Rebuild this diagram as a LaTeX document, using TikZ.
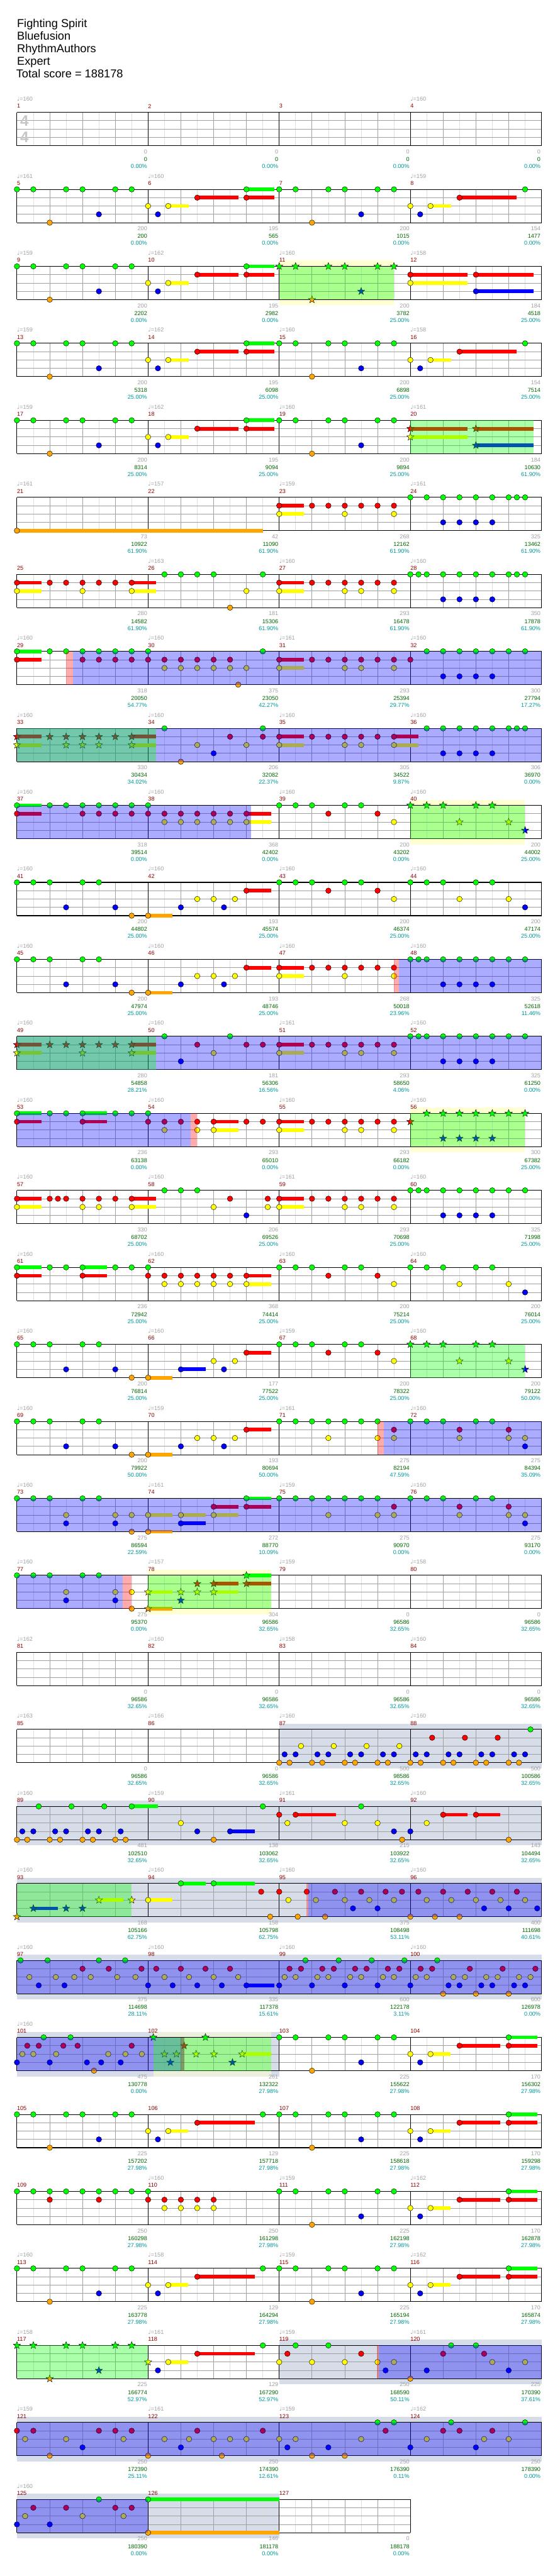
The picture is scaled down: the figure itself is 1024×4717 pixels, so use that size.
\documentclass[tikz,border=0pt]{standalone}
\usepackage{fontspec}
\setmainfont{Liberation Sans}
\newfontfamily\notefont{DejaVu Sans}
\usepackage{tikz}

% lane colours
\definecolor{ln0}{RGB}{0,255,0}
\definecolor{ln1}{RGB}{255,0,0}
\definecolor{ln2}{RGB}{255,255,0}
\definecolor{ln3}{RGB}{0,0,255}
\definecolor{ln4}{RGB}{255,165,0}
\definecolor{solobg}{RGB}{214,220,232}
\definecolor{spyellow}{RGB}{255,255,210}
\definecolor{labgray}{RGB}{160,160,160}
\definecolor{numred}{RGB}{139,0,0}
\definecolor{totgreen}{RGB}{0,100,0}
\definecolor{pctteal}{RGB}{0,150,150}
\definecolor{halfgray}{RGB}{222,222,222}
\definecolor{beatgray}{RGB}{160,160,160}

% staff of #1 eighths
\newcommand{\staff}[1]{%
  \foreach \q in {1,3,...,#1} \draw[halfln] (\q,0) -- (\q,4);
  \foreach \q in {2,4,...,#1} \draw[beatln] (\q,0) -- (\q,4);
  \foreach \l in {1,2,3} \draw[beatln] (0,\l) -- (#1,\l);
  \foreach \q in {0,8,...,#1} \draw[barln] (\q,0) -- (\q,4);
  \draw[barln] (0,0) -- (#1,0) (0,4) -- (#1,4);}
\newcommand{\lane}[2]{\foreach \p in {#2} \filldraw[nt=ln#1] (\p,#1) circle[radius=5pt];}
\newcommand{\slane}[2]{\foreach \p in {#2} \pic[fill=ln#1] at (\p,#1) {starnote};}
\newcommand{\hold}[3]{\draw[sus=ln#1] (#2,#1) -- (#3,#1);}
\newcommand{\zone}[3]{\fill[#1] (#2,0) rectangle (#3,4);}
\newcommand{\band}[3]{\fill[#1] (#2,-0.68) rectangle (#3,4.68);}
% slot, measure, tempo, points, total, percent
\newcommand{\ml}[6]{%
  \node[mnum] (num#2) at ({8*#1},-0.74) {#2};
  \if\relax\detokenize{#3}\relax\else\node[tempo] (bpm#2) at ({8*#1},-1.61) {{\notefont ♩}=#3};\fi
  \node[pts] (pts#2) at ({8*#1+8},4.72) {#4};
  \node[tot] (tot#2) at ({8*#1+8},5.64) {#5};
  \node[pct] (pct#2) at ({8*#1+8},6.47) {#6\%};}

% repeated phrases
\newcommand{\partA}{\hold{0}{14}{15.7}\hold{1}{11}{13.5}\hold{1}{14}{15.7}\hold{2}{9.23}{10.5}%
  \lane{0}{0,1,3,4,6,7,14}\lane{1}{11,14}\lane{2}{8,9.23}\lane{3}{5,8.6}\lane{4}{2}}
\newcommand{\partB}{\lane{0}{16,17,19,20,22,23}\lane{3}{21}\lane{4}{18}}
\newcommand{\partC}{\hold{1}{27}{30.5}\hold{2}{25.23}{26.5}%
  \lane{0}{31}\lane{1}{27}\lane{2}{24,25.23}\lane{3}{24.6}}
\newcommand{\partD}{\hold{0}{30}{31.74}\hold{1}{27}{29.5}\hold{1}{30}{31.74}\hold{2}{25.23}{26.45}%
  \lane{0}{30}\lane{1}{27,30}\lane{2}{24,25.23}\lane{3}{24.6}}
\newcommand{\partE}{\hold{1}{11}{14.5}\hold{2}{9.23}{10.45}%
  \lane{0}{0,1,3,4,6,7,15}\lane{1}{11}\lane{2}{8,9.23}\lane{3}{5,8.6}\lane{4}{2}}
\newcommand{\partF}{\hold{4}{8}{9.5}\hold{1}{14}{15.5}%
  \lane{0}{0,1,2,4,5}\lane{3}{3,6,10,12.63}\lane{4}{7,8}\lane{2}{11,12,13.3}\lane{1}{14}}
\newcommand{\partG}{\lane{0}{16,17,18,20,21}\lane{1}{19,22}\lane{2}{23}}
\newcommand{\partH}{\lane{0}{24,25,26,28,29}\lane{2}{27,30}\lane{3}{31}}
\newcommand{\partI}{\hold{1}{16}{17.5}\hold{2}{16}{17.5}%
  \lane{1}{16,18,19,20,21,22,23}\lane{2}{16,20,23}}

\begin{document}
\begin{tikzpicture}[x=1pt, y=-1pt,
  chartrow/.style={shift={(31,{205.7+141*#1})}, x=30pt, y=-15.25pt},
  halfln/.style={draw=halfgray, line width=0.8pt},
  beatln/.style={draw=beatgray, line width=0.9pt},
  barln/.style={draw=black, line width=1.2pt},
  nt/.style={fill=#1, draw=black, line width=0.5pt},
  sus/.style={draw=#1, line width=6.7pt},
  starnote/.pic={\filldraw[draw=black, line width=0.5pt] (90:7pt) -- (126:2.9pt) -- (162:7pt) -- (198:2.9pt) -- (234:7pt) -- (270:2.9pt) -- (306:7pt) -- (342:2.9pt) -- (18:7pt) -- (54:2.9pt) -- cycle;},
  ovb/.style={fill=ln3, fill opacity=0.33},
  ovg/.style={fill=ln0, fill opacity=0.33},
  ovr/.style={fill=ln1, fill opacity=0.33},
  solo/.style={fill=solobg},
  spbg/.style={fill=spyellow},
  spmix/.style={fill=spyellow, fill opacity=0.55},
  mnum/.style={anchor=west, inner sep=0pt, text=numred, font=\fontsize{10.5}{12}\selectfont},
  tempo/.style={anchor=west, inner sep=0pt, text=labgray, font=\fontsize{10.5}{12}\selectfont},
  pts/.style={anchor=east, inner sep=0pt, xshift=-1.5pt, text=labgray, font=\fontsize{10.5}{12}\selectfont},
  tot/.style={pts, text=totgreen},
  pct/.style={pts, text=pctteal},
  title/.style={anchor=base west, inner sep=0pt, font=\fontsize{21}{25}\selectfont},
  timesig/.style={inner sep=0pt, text=black!22, font=\fontsize{28}{30}\selectfont\bfseries}
]
\useasboundingbox (0,0) rectangle (1024,4717);

% Header
\node[title] (song) at (31,50) {Fighting Spirit};
\node[title] (artist) at (31,73) {Bluefusion};
\node[title] (charter) at (31,96) {RhythmAuthors};
\node[title] (level) at (31,119) {Expert};
\node[title] (total) at (29.5,142.5) {Total score = 188178};

% Row 1
\begin{scope}[chartrow=0]
  \staff{32}
  \node[timesig] (tsigA) at (0.46,1.05) {4};
  \node[timesig] (tsigB) at (0.46,2.95) {4};
  \ml{0}{1}{160}{0}{0}{0.00}\ml{1}{2}{}{0}{0}{0.00}\ml{2}{3}{}{0}{0}{0.00}\ml{3}{4}{160}{0}{0}{0.00}
\end{scope}

% Row 2
\begin{scope}[chartrow=1]
  \staff{32}
  \partA\partB\partC
  \ml{0}{5}{161}{200}{200}{0.00}\ml{1}{6}{160}{195}{565}{0.00}\ml{2}{7}{}{200}{1015}{0.00}\ml{3}{8}{159}{154}{1477}{0.00}
\end{scope}

% Row 3
\begin{scope}[chartrow=2]
  \band{spbg}{16}{23}
  \staff{32}
  \partA
  \slane{0}{16,17,19,20,22,23}\slane{3}{21}\slane{4}{18}
  \hold{1}{24}{27.5}\hold{1}{28}{31.5}\hold{2}{24}{27.5}\hold{3}{28}{31.5}
  \lane{1}{24,28}\lane{2}{24}\lane{3}{28}
  \zone{ovg}{16}{23}
  \ml{0}{9}{159}{200}{2202}{0.00}\ml{1}{10}{162}{195}{2982}{0.00}\ml{2}{11}{160}{200}{3782}{25.00}\ml{3}{12}{158}{184}{4518}{25.00}
\end{scope}

% Row 4
\begin{scope}[chartrow=3]
  \staff{32}
  \partA\partB\partC
  \ml{0}{13}{159}{200}{5318}{25.00}\ml{1}{14}{162}{195}{6098}{25.00}\ml{2}{15}{160}{200}{6898}{25.00}\ml{3}{16}{158}{154}{7514}{25.00}
\end{scope}

% Row 5
\begin{scope}[chartrow=4]
  \staff{32}
  \partA\partB
  \hold{1}{24}{27.5}\hold{1}{28}{31.5}\hold{2}{24}{27.5}\hold{3}{28}{31.5}
  \slane{1}{24,28}\slane{2}{24}\slane{3}{28}
  \zone{ovg}{24}{31.5}
  \ml{0}{17}{159}{200}{8314}{25.00}\ml{1}{18}{162}{195}{9094}{25.00}\ml{2}{19}{160}{200}{9894}{25.00}\ml{3}{20}{161}{184}{10630}{61.90}
\end{scope}

% Row 6
\begin{scope}[chartrow=5]
  \staff{32}
  \hold{4}{0}{15}\lane{4}{0}
  \partI
  \lane{0}{24,25,26,27,28,29,30,30.5,31}\lane{3}{26,27,28,29}
  \ml{0}{21}{161}{73}{10922}{61.90}\ml{1}{22}{157}{42}{11090}{61.90}\ml{2}{23}{159}{268}{12162}{61.90}\ml{3}{24}{161}{325}{13462}{61.90}
\end{scope}

% Row 7
\begin{scope}[chartrow=6]
  \staff{32}
  \hold{1}{0}{1.5}\hold{1}{7}{8.5}\hold{2}{0}{1.5}\hold{2}{7}{8.5}
  \lane{1}{0,2,3,4,5,6,7}\lane{2}{0,4,7,14}\lane{0}{9,10,11,12,15}\lane{4}{13}
  \partI\lane{2}{21}
  \lane{0}{24,24.5,25,26,27,28,29,30,30.5,31}\lane{3}{26,27,28,29}
  \ml{0}{25}{}{280}{14582}{61.90}\ml{1}{26}{163}{181}{15306}{61.90}\ml{2}{27}{160}{293}{16478}{61.90}\ml{3}{28}{160}{350}{17878}{61.90}
\end{scope}

% Row 8
\begin{scope}[chartrow=7]
  \staff{32}
  \hold{0}{0}{1.5}\hold{1}{0}{1.5}
  \lane{0}{0,2,3,4,5,6,7,8,15}\lane{1}{0,4,5,6,7,8,9,10,11,12,13}\lane{2}{9,10,11,12,13,14}\lane{4}{13.5}
  \partI\lane{2}{21}\lane{1}{24}
  \lane{0}{25,26,27,28,29,30,31}\lane{3}{26,27,28,29}
  \zone{ovr}{3}{3.42}\zone{ovb}{3.42}{32}
  \ml{0}{29}{160}{318}{20050}{54.77}\ml{1}{30}{160}{375}{23050}{42.27}\ml{2}{31}{161}{293}{25394}{29.77}\ml{3}{32}{160}{300}{27794}{17.27}
\end{scope}

% Row 9
\begin{scope}[chartrow=8]
  \staff{32}
  \hold{1}{0}{1.5}\hold{1}{7}{8.5}\hold{2}{0}{1.5}\hold{2}{7}{8.5}
  \slane{1}{0,2,3,4,5,6,7}\slane{2}{0,3,4,5,7}
  \lane{0}{9,15}\lane{1}{13,15}\lane{2}{11,14}\lane{3}{12}\lane{4}{10}
  \hold{1}{23}{24.5}\hold{2}{23}{24.5}
  \partI\lane{2}{21}
  \lane{0}{25,26,27,28,29,30,30.5,31}\lane{3}{26,27,28,29}
  \zone{ovb}{0}{32}\zone{ovg}{0}{8.5}
  \ml{0}{33}{160}{330}{30434}{34.02}\ml{1}{34}{160}{206}{32082}{22.37}\ml{2}{35}{160}{305}{34522}{9.87}\ml{3}{36}{160}{306}{36970}{0.00}
\end{scope}

% Row 10
\begin{scope}[chartrow=9]
  \band{spbg}{24}{31}
  \staff{32}
  \hold{0}{0}{1.5}\hold{1}{0}{1.5}\hold{1}{14}{15.5}\hold{2}{14}{15.5}
  \lane{0}{0,2,3,4,5,6,7,8}\lane{1}{0,4,5,6,7,8,9,10,11,12,13,14}\lane{2}{9,10,11,12,13,14}
  \partG
  \slane{0}{24,25,26,28,29}\slane{2}{27,30}\slane{3}{31}
  \zone{ovb}{0}{14.28}\zone{ovg}{24}{31}
  \ml{0}{37}{160}{318}{39514}{0.00}\ml{1}{38}{160}{368}{42402}{0.00}\ml{2}{39}{160}{200}{43202}{0.00}\ml{3}{40}{160}{200}{44002}{25.00}
\end{scope}

% Row 11
\begin{scope}[chartrow=10]
  \staff{32}
  \partF\partG\partH
  \ml{0}{41}{160}{200}{44802}{25.00}\ml{1}{42}{160}{193}{45574}{25.00}\ml{2}{43}{160}{200}{46374}{25.00}\ml{3}{44}{160}{200}{47174}{25.00}
\end{scope}

% Row 12
\begin{scope}[chartrow=11]
  \staff{32}
  \partF\partI
  \lane{0}{24,24.5,25,26,27,28,29,30,31}\lane{3}{26,27,28,29}
  \zone{ovr}{23}{23.3}\zone{ovb}{23.3}{32}
  \ml{0}{45}{160}{200}{47974}{25.00}\ml{1}{46}{160}{193}{48746}{25.00}\ml{2}{47}{160}{268}{50018}{23.96}\ml{3}{48}{160}{325}{52618}{11.46}
\end{scope}

% Row 13
\begin{scope}[chartrow=12]
  \staff{32}
  \hold{1}{0}{1.5}\hold{1}{7}{8.5}\hold{2}{0}{1.5}\hold{2}{7}{8.5}
  \slane{1}{0,2,3,4,5,6,7}\slane{2}{0,4,7}
  \lane{0}{9,13}\lane{1}{11,14,15}\lane{2}{12}\lane{3}{10}
  \partI\lane{2}{21}
  \lane{0}{24,24.5,25,26,27,28,29,30,31}\lane{3}{26,27,28,29}
  \zone{ovb}{0}{32}\zone{ovg}{0}{8.5}
  \ml{0}{49}{160}{280}{54858}{28.21}\ml{1}{50}{160}{181}{56306}{16.56}\ml{2}{51}{161}{293}{58650}{4.06}\ml{3}{52}{160}{325}{61250}{0.00}
\end{scope}

% Row 14
\begin{scope}[chartrow=13]
  \band{spbg}{24}{31}
  \staff{32}
  \hold{0}{0}{1.5}\hold{1}{0}{1.5}\hold{0}{4}{5.5}\hold{1}{4}{5.5}\hold{1}{12}{13.5}\hold{2}{12}{13.5}
  \lane{0}{0,2,3,4,6,7,8}\lane{1}{0,4,8,9,10,11,12,14,15}\lane{2}{9,11,12}
  \partI\lane{2}{21}
  \slane{1}{24}\slane{0}{25,26,27,28,29,30,31}\slane{3}{26,27,28,29}
  \zone{ovb}{0}{10.58}\zone{ovr}{10.58}{11}\zone{ovg}{24}{31}
  \ml{0}{53}{160}{236}{63138}{0.00}\ml{1}{54}{160}{293}{65010}{0.00}\ml{2}{55}{160}{293}{66182}{0.00}\ml{3}{56}{160}{300}{67382}{25.00}
\end{scope}

% Row 15
\begin{scope}[chartrow=14]
  \staff{32}
  \hold{1}{0}{1.5}\hold{2}{0}{1.5}\hold{1}{7}{8.5}\hold{2}{7}{8.5}
  \lane{1}{0,2,2.5,3,4,5,6,7,13,15.3}\lane{2}{0,4,5,7,12,15.3}\lane{0}{9,10,11}\lane{3}{14}
  \partI\lane{2}{21}
  \lane{0}{24,24.5,25,26,27,28,29,30,31}\lane{3}{26,27,28,29}
  \ml{0}{57}{160}{330}{68702}{25.00}\ml{1}{58}{160}{206}{69526}{25.00}\ml{2}{59}{161}{293}{70698}{25.00}\ml{3}{60}{160}{325}{71998}{25.00}
\end{scope}

% Row 16
\begin{scope}[chartrow=15]
  \staff{32}
  \hold{0}{0}{1.5}\hold{1}{0}{1.5}\hold{0}{4}{5.5}\hold{1}{4}{5.5}\hold{1}{14}{15.5}\hold{2}{14}{15.5}
  \lane{0}{0,2,3,4,6,7,8}\lane{1}{0,4,8,9,10,11,12,13,14}\lane{2}{9,10,11,12,13,14}
  \partG\partH
  \ml{0}{61}{160}{236}{72942}{25.00}\ml{1}{62}{160}{368}{74414}{25.00}\ml{2}{63}{160}{200}{75214}{25.00}\ml{3}{64}{160}{200}{76014}{25.00}
\end{scope}

% Row 17
\begin{scope}[chartrow=16]
  \staff{32}
  \hold{4}{8}{9.5}\hold{3}{10}{11.5}\hold{1}{14}{15.5}
  \lane{0}{0,1,2,4,5}\lane{3}{3,6,10,12.63}\lane{4}{7,8}\lane{2}{12,13.3}\lane{1}{14}
  \partG
  \slane{0}{24,25,26,28,29}\slane{2}{27,30}\slane{3}{31}
  \zone{ovg}{24}{31}
  \ml{0}{65}{160}{200}{76814}{25.00}\ml{1}{66}{160}{177}{77522}{25.00}\ml{2}{67}{159}{200}{78322}{25.00}\ml{3}{68}{160}{200}{79122}{50.00}
\end{scope}

% Row 18
\begin{scope}[chartrow=17]
  \staff{32}
  \partF
  \lane{0}{16,17,18,19,20,21,22}\lane{2}{19,22,23}\lane{1}{23}
  \lane{0}{24,25,26,28,29}\lane{1}{27,30}\lane{2}{27,30,31}\lane{3}{31}
  \zone{ovr}{22}{22.4}\zone{ovb}{22.4}{32}
  \ml{0}{69}{160}{200}{79922}{50.00}\ml{1}{70}{159}{193}{80694}{50.00}\ml{2}{71}{161}{275}{82194}{47.59}\ml{3}{72}{160}{275}{84394}{35.09}
\end{scope}

% Row 19
\begin{scope}[chartrow=18]
  \staff{32}
  \hold{4}{8}{9.5}\hold{2}{8}{9.5}\hold{2}{10}{11.5}\hold{3}{10}{11.5}\hold{2}{12}{13.5}\hold{1}{12}{13.5}\hold{1}{14}{15.5}\hold{0}{14}{15.5}
  \lane{0}{0,1,2,4,5,14}\lane{2}{3,6,7,8,10,12}\lane{3}{3,6,10}\lane{4}{7,8}\lane{1}{12,14}
  \lane{0}{16,17,18,19,20,21,22}\lane{2}{19,22,23}\lane{1}{23}
  \lane{0}{24,25,26,28,29}\lane{1}{27,30}\lane{2}{27,30,31}\lane{3}{31}
  \zone{ovb}{0}{32}
  \ml{0}{73}{160}{275}{86594}{22.59}\ml{1}{74}{161}{272}{88770}{10.09}\ml{2}{75}{159}{275}{90970}{0.00}\ml{3}{76}{160}{275}{93170}{0.00}
\end{scope}

% Row 20
\begin{scope}[chartrow=19]
  \band{spbg}{8}{15.5}
  \staff{32}
  \lane{0}{0,1,2,4,5}\lane{2}{3,6,7}\lane{3}{3,6}\lane{4}{7}
  \hold{2}{8}{9.5}\hold{4}{8}{9.5}\hold{1}{12}{13.5}\hold{2}{12}{13.5}\hold{0}{14}{15.5}\hold{1}{14}{15.5}
  \slane{2}{8,10,11,12}\slane{4}{8}\slane{3}{10}\slane{1}{11,12,14}\slane{0}{14}
  \zone{ovb}{0}{6.47}\zone{ovr}{6.47}{7}\zone{ovg}{8}{15.5}
  \ml{0}{77}{160}{275}{95370}{0.00}\ml{1}{78}{157}{304}{96586}{32.65}\ml{2}{79}{159}{0}{96586}{32.65}\ml{3}{80}{158}{0}{96586}{32.65}
\end{scope}

% Row 21
\begin{scope}[chartrow=20]
  \staff{32}
  \ml{0}{81}{162}{0}{96586}{32.65}\ml{1}{82}{160}{0}{96586}{32.65}\ml{2}{83}{158}{0}{96586}{32.65}\ml{3}{84}{160}{0}{96586}{32.65}
\end{scope}

% Row 22
\begin{scope}[chartrow=21]
  \band{solo}{16}{32}
  \staff{32}
  \foreach \b in {16,18,...,30} {\lane{4}{\b,\b+0.63}\lane{3}{\b+0.33,\b+1}}
  \lane{2}{17.33,19.33,21.33,23.33}\lane{1}{25.33,27.33,29.33}\lane{0}{31.33}
  \ml{0}{85}{163}{0}{96586}{32.65}\ml{1}{86}{166}{0}{96586}{32.65}\ml{2}{87}{160}{500}{98586}{32.65}\ml{3}{88}{160}{500}{100586}{32.65}
\end{scope}

% Row 23
\begin{scope}[chartrow=22]
  \band{solo}{0}{32}
  \staff{32}
  \foreach \b in {0,2,4,6} {\lane{4}{\b,\b+0.63}}
  \lane{3}{0.33,1,2.33,3,4.33,5,6.33}\lane{0}{1.33,3.33,5.33}
  \hold{0}{7}{8.6}\hold{3}{13}{14.5}\hold{1}{17}{19.46}\hold{1}{26}{27.5}\hold{1}{28}{29.5}
  \lane{0}{7,15,21}\lane{2}{10,16.5,20,22,25}\lane{3}{11,13,23,24}\lane{4}{12,23.5,30}\lane{1}{16,17,26,28}
  \ml{0}{89}{160}{481}{102510}{32.65}\ml{1}{90}{159}{138}{103062}{32.65}\ml{2}{91}{161}{215}{103922}{32.65}\ml{3}{92}{160}{143}{104494}{32.65}
\end{scope}

% Row 24
\begin{scope}[chartrow=23]
  \band{solo}{0}{32}
  \staff{32}
  \hold{3}{1}{2.5}\hold{2}{5}{6.5}
  \slane{4}{0}\slane{3}{1,3,4}\slane{2}{5,7}
  \hold{2}{8}{9.5}\hold{0}{10}{11.5}\hold{0}{12}{14.5}
  \lane{2}{8,16.56,18.24,20,21.5,23,25,26.5,28,29.5,31}\lane{0}{10,12}
  \lane{1}{14.9,16,17.68,19.4,21,22.49,23.49,24.49,26,27.5,29,30.5}
  \lane{4}{15.45,17.13,18.8,24,25.5,27}\lane{3}{20.5,22,28.5,30,31.74}
  \zone{ovg}{0}{7}\zone{ovr}{17.66}{17.76}\zone{ovb}{17.76}{32}
  \ml{0}{93}{160}{168}{105166}{62.75}\ml{1}{94}{160}{158}{105798}{62.75}\ml{2}{95}{160}{375}{108498}{53.11}\ml{3}{96}{160}{400}{111698}{40.61}
\end{scope}

% Row 25
\begin{scope}[chartrow=24]
  \band{solo}{0}{32}
  \staff{32}
  \hold{3}{14}{15.7}
  \lane{0}{0.22,1.87,5,6.6,17.6,19.63,21.64,23.64,25.64}
  \lane{1}{4,5.6,7.6,8.5,10,11.5,13,16.63,17.33,18.63,19.33,20.63,21.33,22.63,23.33,24.63,25.33,27.63,29.63,31.63}
  \lane{2}{0.76,2.37,3.5,4.5,6.12,7.23,9,10.5,12,13.5,16.33,17,18.33,19,20.33,21,22.33,23,24.33,25,26.63,27.33,28.63,29.33,30.63,31.33}
  \lane{3}{1.33,2.9,8,9.5,11,12.5,14,16,18,20,22,24,26.33,27,28.33,29,30.33,31}
  \lane{4}{26,28,30}
  \zone{ovb}{0}{32}
  \ml{0}{97}{160}{375}{114698}{28.11}\ml{1}{98}{160}{335}{117378}{15.61}\ml{2}{99}{160}{600}{122178}{3.11}\ml{3}{100}{160}{600}{126978}{0.00}
\end{scope}

% Row 26
\begin{scope}[chartrow=25]
  \band{solo}{0}{16}\band{spmix}{8.32}{15.5}
  \staff{32}
  \lane{0}{1.63,3.27}\lane{1}{0.63,1.33,2.83,3.7,7}\lane{2}{0.33,1,2.39,5.57,6.62,7.62}
  \lane{3}{0,2,4.27,5.14,6.33}\lane{4}{4.7}
  \hold{2}{13.74}{15.5}
  \slane{0}{8.32,11.5}\slane{2}{9,9.73,10.93,12.02,13.74}\slane{3}{9.36,13.15}\slane{1}{10.2}
  \partB\partD
  \zone{ovb}{0}{10.2}\zone{ovr}{10}{10.2}\zone{ovg}{8.32}{15.5}
  \ml{0}{101}{160}{475}{130778}{0.00}\ml{1}{102}{}{261}{132322}{27.98}\ml{2}{103}{}{225}{155622}{27.98}\ml{3}{104}{}{170}{156302}{27.98}
\end{scope}

% Row 27
\begin{scope}[chartrow=26]
  \staff{32}
  \partE\partB\partD
  \ml{0}{105}{}{225}{157202}{27.98}\ml{1}{106}{}{129}{157718}{27.98}\ml{2}{107}{}{225}{158618}{27.98}\ml{3}{108}{}{170}{159298}{27.98}
\end{scope}

% Row 28
\begin{scope}[chartrow=27]
  \staff{32}
  \lane{0}{0,1,2,3,4,5,6,7,8}\lane{1}{2,5,8,9,10,11,12}\lane{2}{9,10,11,12}
  \partB\partD
  \ml{0}{109}{}{250}{160298}{27.98}\ml{1}{110}{160}{250}{161298}{27.98}\ml{2}{111}{159}{225}{162198}{27.98}\ml{3}{112}{162}{170}{162878}{27.98}
\end{scope}

% Row 29
\begin{scope}[chartrow=28]
  \staff{32}
  \partE\partB\partD
  \ml{0}{113}{160}{225}{163778}{27.98}\ml{1}{114}{158}{129}{164294}{27.98}\ml{2}{115}{159}{225}{165194}{27.98}\ml{3}{116}{162}{170}{165874}{27.98}
\end{scope}

% Row 30
\begin{scope}[chartrow=29]
  \band{solo}{16}{32}
  \staff{32}
  \slane{0}{0,1,3,4,6,7}\slane{3}{5}\slane{4}{2}\slane{2}{8}
  \hold{2}{9.23}{10.45}\hold{1}{11}{14.5}
  \lane{2}{9.23}\lane{3}{8.6}\lane{1}{11}\lane{0}{15}
  \lane{0}{17,19,26.49,28}\lane{1}{16.5,21,26,28.5}\lane{2}{16,18,20,22,23,29,31}\lane{3}{22.49,25,30}\lane{4}{24}
  \zone{ovg}{0}{8}\zone{ovr}{21.96}{22.06}\zone{ovb}{22.06}{32}
  \ml{0}{117}{158}{225}{166774}{52.97}\ml{1}{118}{161}{129}{167290}{52.97}\ml{2}{119}{159}{250}{168590}{50.11}\ml{3}{120}{161}{225}{170390}{37.61}
\end{scope}

% Row 31
\begin{scope}[chartrow=30]
  \band{solo}{0}{32}
  \staff{32}
  \lane{1}{0,1,5,6,7,11,15,22.49,26,27,29}
  \lane{2}{0.5,3,6.5,9,10.5,12,13,14,16,17,21,25,28.5,30}
  \lane{3}{4,10,16.5,19,24,28}\lane{4}{2,8,12.5,18,20}\lane{0}{22,23,26.49,31}
  \zone{ovb}{0}{32}
  \ml{0}{121}{159}{250}{172390}{25.11}\ml{1}{122}{161}{250}{174390}{12.61}\ml{2}{123}{159}{250}{176390}{0.11}\ml{3}{124}{162}{250}{178390}{0.00}
\end{scope}

% Row 32
\begin{scope}[chartrow=31]
  \band{solo}{0}{16}
  \staff{24}
  \hold{0}{8}{16}\hold{4}{8}{16}
  \lane{0}{5,8}\lane{4}{8}\lane{1}{1,3,6,7}\lane{2}{0.5,4,6.5}\lane{3}{0,2}
  \zone{ovb}{0}{8}
  \ml{0}{125}{160}{250}{180390}{0.00}\ml{1}{126}{}{146}{181178}{0.00}\ml{2}{127}{}{0}{188178}{0.00}
\end{scope}
\end{tikzpicture}
\end{document}
